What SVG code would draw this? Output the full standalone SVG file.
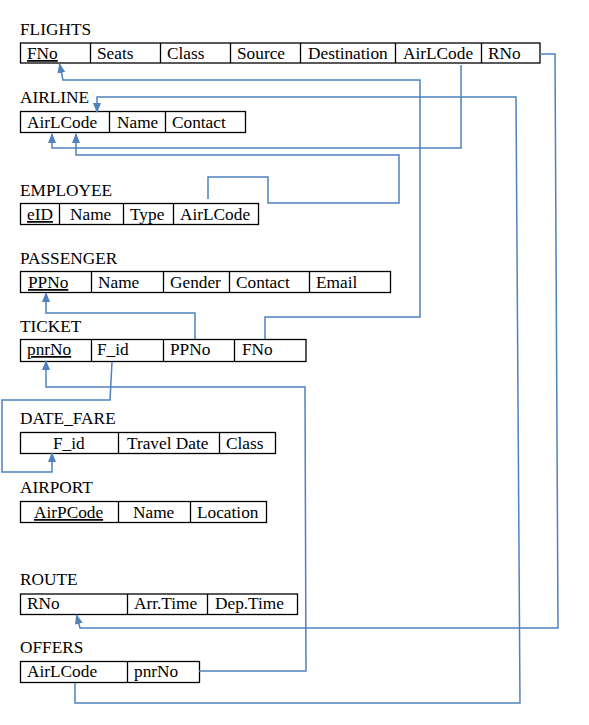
<svg xmlns="http://www.w3.org/2000/svg" width="589" height="725" viewBox="0 0 589 725">
<style>
text{font-family:"Liberation Serif","Times New Roman",serif;font-size:17.3px;fill:#000}
.tb{fill:none;stroke:#000;stroke-width:1.3}
.dv{stroke:#000;stroke-width:1.3}
.u{text-decoration:underline}
.c{fill:none;stroke:#4f81bd;stroke-width:1.5;stroke-linejoin:miter}
</style>
<defs>
<marker id="ah" markerUnits="userSpaceOnUse" markerWidth="10" markerHeight="10" viewBox="0 0 10 10" refX="9" refY="5" orient="auto">
<path d="M0,1 L10,5 L0,9 Z" fill="#4f81bd"/>
</marker>
</defs>
<rect width="589" height="725" fill="#fff"/>
<g id="flights">
<text x="20" y="35">FLIGHTS</text>
<rect class="tb" x="20.5" y="43" width="519.5" height="20"/>
<path class="dv" d="M90.5,43V63M160.5,43V63M230.5,43V63M300.5,43V63M395.5,43V63M481.5,43V63"/>
<text class="u" x="27" y="59">FNo</text>
<text x="97" y="59">Seats</text>
<text x="167" y="59">Class</text>
<text x="237" y="59">Source</text>
<text x="308" y="59">Destination</text>
<text x="403" y="59">AirLCode</text>
<text x="488" y="59">RNo</text>
</g>
<g id="airline">
<text x="20" y="103">AIRLINE</text>
<rect class="tb" x="20.5" y="111.5" width="225" height="21"/>
<path class="dv" d="M109.5,111.5V132.5M165.5,111.5V132.5"/>
<text x="27" y="128">AirLCode</text>
<text x="117" y="128">Name</text>
<text x="172" y="128">Contact</text>
</g>
<g id="employee">
<text x="20" y="196">EMPLOYEE</text>
<rect class="tb" x="20.5" y="203.5" width="238" height="21"/>
<path class="dv" d="M59.5,203.5V224.5M123.5,203.5V224.5M173.5,203.5V224.5"/>
<text class="u" x="27" y="220">eID</text>
<text x="70" y="220">Name</text>
<text x="130" y="220">Type</text>
<text x="180" y="220">AirLCode</text>
</g>
<g id="passenger">
<text x="20" y="264">PASSENGER</text>
<rect class="tb" x="20.5" y="271.5" width="370" height="21"/>
<path class="dv" d="M91.5,271.5V292.5M163.5,271.5V292.5M229.5,271.5V292.5M309.5,271.5V292.5"/>
<text class="u" x="28" y="288">PPNo</text>
<text x="98" y="288">Name</text>
<text x="170" y="288">Gender</text>
<text x="236" y="288">Contact</text>
<text x="316" y="288">Email</text>
</g>
<g id="ticket">
<text x="20" y="332">TICKET</text>
<rect class="tb" x="20.5" y="339.5" width="285.5" height="22"/>
<path class="dv" d="M91.5,339.5V361.5M163.5,339.5V361.5M234.5,339.5V361.5"/>
<text class="u" x="27" y="355">pnrNo</text>
<text x="97" y="355">F_id</text>
<text x="170" y="355">PPNo</text>
<text x="242" y="355">FNo</text>
</g>
<g id="date_fare">
<text x="20" y="424">DATE_FARE</text>
<rect class="tb" x="20.5" y="432.5" width="255" height="21"/>
<path class="dv" d="M118.5,432.5V453.5M219.5,432.5V453.5"/>
<text x="53" y="449">F_id</text>
<text x="127" y="449">Travel Date</text>
<text x="226" y="449">Class</text>
</g>
<g id="airport">
<text x="20" y="493">AIRPORT</text>
<rect class="tb" x="20.5" y="501.5" width="246" height="21"/>
<path class="dv" d="M118.5,501.5V522.5M190.5,501.5V522.5"/>
<text class="u" x="34" y="518">AirPCode</text>
<text x="133" y="518">Name</text>
<text x="197" y="518">Location</text>
</g>
<g id="route">
<text x="20" y="585">ROUTE</text>
<rect class="tb" x="20.5" y="594" width="277" height="20.5"/>
<path class="dv" d="M127.5,594V614.5M207.5,594V614.5"/>
<text x="27" y="609">RNo</text>
<text x="134" y="609">Arr.Time</text>
<text x="215" y="609">Dep.Time</text>
</g>
<g id="offers">
<text x="20" y="653">OFFERS</text>
<rect class="tb" x="20.5" y="661.5" width="179" height="21"/>
<path class="dv" d="M127.5,661.5V682.5"/>
<text x="27" y="677">AirLCode</text>
<text x="134" y="677">pnrNo</text>
</g>
<g id="connectors">
<path class="c" marker-end="url(#ah)" d="M265,339 V317 H420 V80 H63 L59.5,64"/>
<path class="c" marker-end="url(#ah)" d="M461,65 V148 H52 V134"/>
<path class="c" marker-end="url(#ah)" d="M208,199 V177 H268 V203 H399 V155 H76 V134"/>
<path class="c" marker-end="url(#ah)" d="M75,683 V703 H520 L516,97 H97 V112"/>
<path class="c" marker-end="url(#ah)" d="M195,339 V313 H46 V293"/>
<path class="c" marker-end="url(#ah)" d="M199,671 H306 L305,387 H46 V361"/>
<path class="c" marker-end="url(#ah)" d="M112,362 L110,400 H2 V472 H52 V453"/>
<path class="c" marker-end="url(#ah)" d="M540,54 H555 L558,628 H80 L76.5,615"/>
</g>
</svg>
